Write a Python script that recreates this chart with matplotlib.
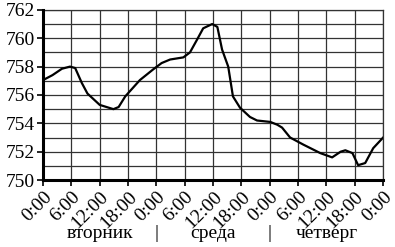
import matplotlib.pyplot as plt

plt.rcParams['font.family'] = ['Liberation Serif', 'DejaVu Serif']

# hours from tuesday 0:00, pressure in mm Hg
hours = [0, 2, 4, 5.7, 6.8, 8.2, 9.4, 12, 14.9, 16, 17.4, 20.5, 23.3, 25.1, 26.9,
         29.7, 31.1, 32.6, 33.9, 35.8, 36.9, 37.9, 39.2, 40.2, 41.7, 43.8, 45.3,
         48.1, 49.6, 50.6, 52.3, 55.1, 58.7, 61.2, 63, 64, 65.5, 66.7, 68.2,
         69.9, 72]
pressure = [757.05, 757.4, 757.85, 758.0, 757.9, 756.85, 756.1, 755.3, 755.0,
            755.15, 755.9, 757.05, 757.8, 758.25, 758.5, 758.65, 759.0, 759.9,
            760.7, 761.0, 760.8, 759.2, 758.0, 755.9, 755.1, 754.45, 754.2,
            754.1, 753.9, 753.7, 753.0, 752.5, 751.9, 751.6, 752.0, 752.1,
            751.9, 751.05, 751.2, 752.25, 753.0]

tick_hours = list(range(0, 73, 6))
tick_labels = ['0:00', '6:00', '12:00', '18:00'] * 3 + ['0:00']
days = ['вторник', 'среда', 'четверг']
day_pos = [12, 36, 60]
sep_pos = [24, 48]

fig = plt.figure(figsize=(3.95, 2.47), dpi=100)
ax = fig.add_axes([0.109, 0.271, 0.861, 0.689])

ax.plot(hours, pressure, color='black', lw=1.6, solid_joinstyle='round')

ax.set_xlim(0, 72)
ax.set_ylim(750, 762)
ax.set_xticks(tick_hours)
ax.set_xticklabels(tick_labels, rotation=45, ha='right', rotation_mode='anchor')
ax.set_yticks(range(750, 763, 2))
ax.set_yticks(range(751, 762, 2), minor=True)
ax.tick_params(axis='both', labelsize=14, length=4, width=1.2, color='black')
ax.tick_params(axis='y', which='minor', length=0)
ax.tick_params(axis='x', pad=2)
ax.tick_params(axis='y', pad=2)
ax.grid(True, which='both', color='#333333', lw=0.9)

for s in ['top', 'right']:
    ax.spines[s].set_linewidth(0.9)
    ax.spines[s].set_color('#333333')
for s in ['left', 'bottom']:
    ax.spines[s].set_linewidth(2.2)
    ax.spines[s].set_zorder(5)

trans = ax.get_xaxis_transform()
for d, x in zip(days, day_pos):
    ax.text(x, -0.315, d, transform=trans, ha='center', va='center',
            fontsize=14, clip_on=False)
for x in sep_pos:
    ax.text(x, -0.315, '|', transform=trans, ha='center', va='center',
            fontsize=14, clip_on=False)

fig.savefig('out.png', dpi=100)
